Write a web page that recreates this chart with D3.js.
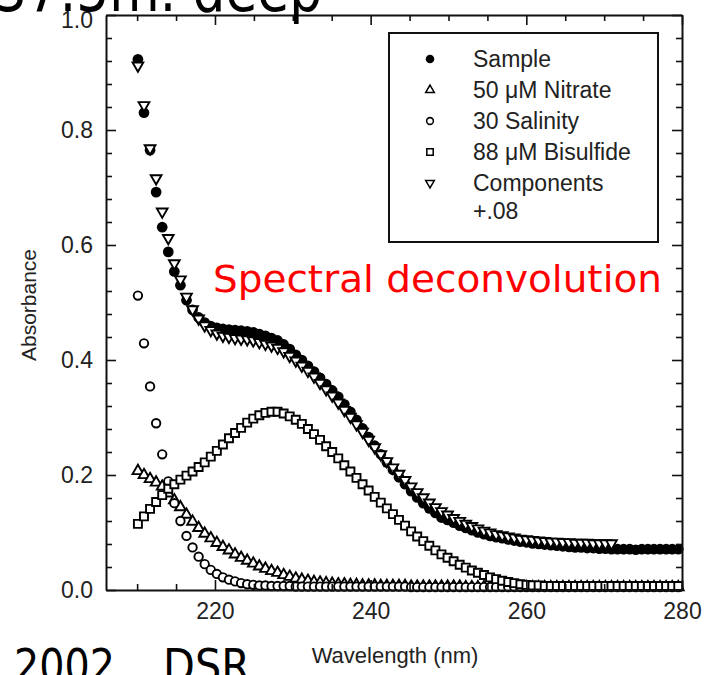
<!DOCTYPE html>
<html>
<head>
<meta charset="utf-8">
<script src="https://cdn.jsdelivr.net/npm/d3@7/dist/d3.min.js"></script>
<style>
	body { margin: 0; background: #fff; }
	svg { display: block; }
	.axis text { font-family: "Liberation Sans", Arial, sans-serif; fill: #222; }
	.slide { font-family: "Comic Sans MS", "DejaVu Sans", sans-serif; }
</style>
</head>
<body>
<svg id="chart" width="714" height="675"></svg>
<script>
// wavelength grid (nm)
const wavelengths = [
	210.10, 210.88, 211.66, 212.44, 213.22, 214.00, 214.78, 215.56, 216.34, 217.12,
	217.90, 218.68, 219.46, 220.24, 221.02, 221.80, 222.58, 223.36, 224.14, 224.92,
	225.70, 226.48, 227.26, 228.04, 228.82, 229.60, 230.38, 231.16, 231.94, 232.72,
	233.50, 234.28, 235.06, 235.84, 236.62, 237.40, 238.18, 238.96, 239.74, 240.52,
	241.30, 242.08, 242.86, 243.64, 244.42, 245.20, 245.98, 246.76, 247.54, 248.32,
	249.10, 249.88, 250.66, 251.44, 252.22, 253.00, 253.78, 254.56, 255.34, 256.12,
	256.90, 257.68, 258.46, 259.24, 260.02, 260.80, 261.58, 262.36, 263.14, 263.92,
	264.70, 265.48, 266.26, 267.04, 267.82, 268.60, 269.38, 270.16, 270.94, 271.72,
	272.50, 273.28, 274.06, 274.84, 275.62, 276.40, 277.18, 277.96, 278.74, 279.52
]

const sample = [
	0.923, 0.830, 0.765, 0.692, 0.631, 0.588, 0.554, 0.530, 0.504, 0.487,
	0.474, 0.465, 0.459, 0.456, 0.454, 0.453, 0.452, 0.451, 0.450, 0.448,
	0.445, 0.442, 0.438, 0.434, 0.427, 0.419, 0.409, 0.400, 0.390, 0.380,
	0.369, 0.358, 0.347, 0.336, 0.323, 0.310, 0.296, 0.281, 0.266, 0.251,
	0.236, 0.222, 0.209, 0.196, 0.184, 0.172, 0.161, 0.151, 0.142, 0.134,
	0.126, 0.122, 0.117, 0.112, 0.108, 0.104, 0.100, 0.097, 0.094, 0.092,
	0.090, 0.088, 0.086, 0.084, 0.083, 0.081, 0.080, 0.079, 0.078, 0.077,
	0.076, 0.075, 0.074, 0.074, 0.073, 0.073, 0.072, 0.072, 0.071, 0.071,
	0.071, 0.071, 0.070, 0.071, 0.071, 0.071, 0.071, 0.071, 0.071, 0.071
]

const nitrate = [
	0.207, 0.200, 0.193, 0.187, 0.180, 0.168, 0.156, 0.144, 0.131, 0.119,
	0.108, 0.098, 0.090, 0.082, 0.075, 0.069, 0.062, 0.056, 0.051, 0.046,
	0.041, 0.037, 0.033, 0.030, 0.026, 0.023, 0.020, 0.018, 0.016, 0.014,
	0.013, 0.012, 0.011, 0.010, 0.010, 0.009, 0.009, 0.008, 0.008, 0.008,
	0.007, 0.007, 0.007, 0.007, 0.007, 0.006, 0.006, 0.006, 0.006, 0.006,
	0.006, 0.006, 0.006, 0.006, 0.005, 0.005, 0.005, 0.005, 0.005, 0.005,
	0.005, 0.005, 0.005, 0.005, 0.005, 0.005, 0.005, 0.005, 0.005, 0.005,
	0.005, 0.005, 0.005, 0.005, 0.005, 0.005, 0.005, 0.005, 0.005, 0.005,
	0.005, 0.005, 0.005, 0.005, 0.005, 0.005, 0.005, 0.005, 0.005, 0.005
]

const salinity = [
	0.512, 0.429, 0.354, 0.290, 0.236, 0.189, 0.151, 0.120, 0.094, 0.074,
	0.058, 0.045, 0.035, 0.028, 0.022, 0.018, 0.015, 0.012, 0.010, 0.009,
	0.008, 0.008, 0.007, 0.007, 0.007, 0.007, 0.006, 0.006, 0.006, 0.006,
	0.006, 0.006, 0.006, 0.006, 0.006, 0.006, 0.006, 0.006, 0.006, 0.006,
	0.006, 0.006, 0.006, 0.006, 0.006, 0.005, 0.005, 0.005, 0.005, 0.005,
	0.005, 0.005, 0.005, 0.005, 0.005, 0.005, 0.005, 0.005, 0.005, 0.005,
	0.005, 0.005, 0.005, 0.005, 0.005, 0.005, 0.005, 0.005, 0.005, 0.005,
	0.005, 0.005, 0.005, 0.005, 0.005, 0.005, 0.005, 0.005, 0.005, 0.005,
	0.005, 0.005, 0.005, 0.005, 0.005, 0.005, 0.005, 0.005, 0.005, 0.005
]

const bisulfide = [
	0.115, 0.128, 0.141, 0.153, 0.165, 0.176, 0.184, 0.192, 0.199, 0.206,
	0.214, 0.222, 0.232, 0.242, 0.253, 0.264, 0.273, 0.282, 0.291, 0.298,
	0.304, 0.308, 0.310, 0.310, 0.307, 0.302, 0.296, 0.289, 0.280, 0.271,
	0.261, 0.250, 0.240, 0.229, 0.217, 0.206, 0.195, 0.184, 0.173, 0.162,
	0.152, 0.142, 0.132, 0.122, 0.112, 0.102, 0.093, 0.085, 0.077, 0.069,
	0.062, 0.056, 0.050, 0.044, 0.039, 0.034, 0.030, 0.026, 0.022, 0.019,
	0.016, 0.014, 0.012, 0.010, 0.009, 0.008, 0.008, 0.007, 0.007, 0.007,
	0.007, 0.007, 0.007, 0.007, 0.007, 0.007, 0.007, 0.007, 0.007, 0.007,
	0.007, 0.007, 0.007, 0.007, 0.007, 0.007, 0.007, 0.007, 0.007, 0.007
]

// sum of the components plus an offset of .08, only shown up to ~271 nm
const components = [
	0.912, 0.843, 0.768, 0.716, 0.658, 0.612, 0.568, 0.540, 0.510, 0.488,
	0.472, 0.460, 0.452, 0.446, 0.442, 0.440, 0.438, 0.437, 0.436, 0.434,
	0.431, 0.428, 0.425, 0.421, 0.415, 0.407, 0.399, 0.390, 0.381, 0.371,
	0.360, 0.349, 0.338, 0.326, 0.313, 0.301, 0.288, 0.275, 0.261, 0.248,
	0.236, 0.224, 0.213, 0.202, 0.191, 0.180, 0.170, 0.161, 0.152, 0.144,
	0.137, 0.131, 0.125, 0.120, 0.115, 0.111, 0.107, 0.103, 0.100, 0.097,
	0.095, 0.093, 0.091, 0.089, 0.088, 0.087, 0.086, 0.085, 0.084, 0.084,
	0.083, 0.083, 0.082, 0.082, 0.082, 0.081, 0.081, 0.081, 0.081
]

const legendLabels = ['Sample', '50 \u03bcM Nitrate', '30 Salinity', '88 \u03bcM Bisulfide', 'Components']
const legendExtra = '+.08'
const xTicks = [220, 240, 260, 280]
const xMinorTicks = [210, 215, 225, 230, 235, 245, 250, 255, 265, 270, 275]
const yTicks = [0, 0.2, 0.4, 0.6, 0.8, 1.0]
const yMinorTicks = [0.04, 0.08, 0.12, 0.16, 0.24, 0.28, 0.32, 0.36, 0.44, 0.48, 0.52, 0.56,
	0.64, 0.68, 0.72, 0.76, 0.84, 0.88, 0.92, 0.96]

let config = {
	svg: undefined,
	left: 106,
	right: 682,
	top: 15,
	bottom: 590,
	xScale: undefined,
	yScale: undefined,
}

function createScales() {
	config.xScale = d3.scaleLinear()
		.domain([206, 280])
		.range([config.left, config.right])
	config.yScale = d3.scaleLinear()
		.domain([0, 1])
		.range([config.bottom, config.top])
}

function styleAxis(g) {
	g.select('.domain').attr('stroke', '#111').attr('stroke-width', 2)
	g.selectAll('.tick line').attr('stroke', '#111').attr('stroke-width', 1.6)
	g.selectAll('text').attr('font-size', 23)
}

function drawAxes() {
	let svg = config.svg
	let x = config.xScale
	let y = config.yScale

	let sides = [
		{ axis: d3.axisBottom(x), pos: `translate(0,${config.bottom})`, major: xTicks, minor: xMinorTicks, labels: true },
		{ axis: d3.axisTop(x), pos: `translate(0,${config.top})`, major: xTicks, minor: xMinorTicks, labels: false },
		{ axis: d3.axisLeft(y), pos: `translate(${config.left},0)`, major: yTicks, minor: yMinorTicks, labels: true },
		{ axis: d3.axisRight(y), pos: `translate(${config.right},0)`, major: yTicks, minor: yMinorTicks, labels: false },
	]

	sides.forEach(s => {
		let minorG = svg.append('g').attr('class', 'axis').attr('transform', s.pos)
			.call(s.axis.tickValues(s.minor).tickSize(-6).tickSizeOuter(0).tickFormat(''))
		minorG.select('.domain').remove()
		styleAxis(minorG)

		let fmt = s.labels ? (s.major === xTicks ? d3.format('d') : d3.format('.1f')) : ''
		let majorG = svg.append('g').attr('class', 'axis').attr('transform', s.pos)
			.call(s.axis.tickValues(s.major).tickSize(-10).tickSizeOuter(0).tickPadding(13).tickFormat(fmt))
		styleAxis(majorG)
	})

	// the 1.0 label sits a little low in the original
	svg.selectAll('.axis .tick text')
		.filter(d => d === 1.0)
		.attr('dy', '0.55em')

	svg.append('text')
		.attr('x', 395)
		.attr('y', 663)
		.attr('text-anchor', 'middle')
		.attr('font-family', '"Liberation Sans", Arial, sans-serif')
		.attr('font-size', 22)
		.attr('fill', '#222')
		.text('Wavelength (nm)')

	svg.append('text')
		.attr('transform', 'translate(36,305) rotate(-90)')
		.attr('text-anchor', 'middle')
		.attr('font-family', '"Liberation Sans", Arial, sans-serif')
		.attr('font-size', 21)
		.attr('fill', '#222')
		.text('Absorbance')
}

let shapes = {
	filled: d3.symbol().type(d3.symbolCircle).size(90)(),
	circle: d3.symbol().type(d3.symbolCircle).size(56)(),
	square: d3.symbol().type(d3.symbolSquare).size(64)(),
	triangle: d3.symbol().type(d3.symbolTriangle).size(50)(),
}

function styleMarker(sel, kind) {
	if (kind === 'filled') {
		sel.attr('fill', '#000').attr('stroke', 'none')
	} else {
		sel.attr('fill', '#fff').attr('stroke', '#000').attr('stroke-width', 1.9)
	}
}

function drawSeries(values, kind, flip) {
	let x = config.xScale
	let y = config.yScale
	let pts = values.map((v, i) => ({ w: wavelengths[i], a: v }))

	let marks = config.svg.append('g')
		.selectAll('path')
		.data(pts)
		.join('path')
		.attr('d', shapes[kind])
		.attr('transform', d => `translate(${x(d.w)},${y(d.a)})` + (flip ? ' rotate(180)' : ''))
	styleMarker(marks, kind)
}

function drawLegend() {
	let svg = config.svg
	let g = svg.append('g')
	g.append('rect')
		.attr('x', 389).attr('y', 33)
		.attr('width', 269).attr('height', 209)
		.attr('fill', '#fff')
		.attr('stroke', '#111')
		.attr('stroke-width', 2)

	let kinds = [['filled', false], ['triangle', false], ['circle', false], ['square', false], ['triangle', true]]
	legendLabels.forEach((label, i) => {
		let cy = 59 + i * 31
		let m = g.append('path')
			.attr('d', shapes[kinds[i][0]])
			.attr('transform', `translate(430,${cy})` + (kinds[i][1] ? ' rotate(180)' : '') + ' scale(0.8)')
		styleMarker(m, kinds[i][0])
		g.append('text')
			.attr('x', 473).attr('y', cy)
			.attr('dy', '0.36em')
			.attr('font-family', '"Liberation Sans", Arial, sans-serif')
			.attr('font-size', 23)
			.attr('fill', '#222')
			.text(label)
	})
	g.append('text')
		.attr('x', 473).attr('y', 211)
		.attr('dy', '0.36em')
		.attr('font-family', '"Liberation Sans", Arial, sans-serif')
		.attr('font-size', 23)
		.attr('fill', '#222')
		.text(legendExtra)
}

function drawSlideText() {
	let svg = config.svg
	svg.append('text')
		.attr('class', 'slide')
		.attr('x', 213).attr('y', 292)
		.attr('font-size', 38)
		.attr('fill', '#ff0000')
		.attr('textLength', 449)
		.attr('lengthAdjust', 'spacingAndGlyphs')
		.text('Spectral deconvolution')

	// slide title, mostly above the crop
	svg.append('text')
		.attr('class', 'slide')
		.attr('x', -6).attr('y', 11)
		.attr('font-size', 62)
		.attr('fill', '#000')
		.attr('textLength', 328)
		.attr('lengthAdjust', 'spacingAndGlyphs')
		.text('37.5m. deep')

	svg.append('text')
		.attr('class', 'slide')
		.attr('x', 14).attr('y', 682)
		.attr('font-size', 46)
		.attr('fill', '#000')
		.attr('textLength', 101)
		.attr('lengthAdjust', 'spacingAndGlyphs')
		.text('2002')

	svg.append('text')
		.attr('class', 'slide')
		.attr('x', 163).attr('y', 682)
		.attr('font-size', 46)
		.attr('fill', '#000')
		.attr('textLength', 87)
		.attr('lengthAdjust', 'spacingAndGlyphs')
		.text('DSR')
}

function app() {
	config.svg = d3.select('#chart')
	createScales()
	drawSeries(sample, 'filled', false)
	drawSeries(nitrate, 'triangle', false)
	drawSeries(salinity, 'circle', false)
	drawSeries(bisulfide, 'square', false)
	drawSeries(components, 'triangle', true)
	drawAxes()
	drawLegend()
	drawSlideText()
}

app()
</script>
</body>
</html>
